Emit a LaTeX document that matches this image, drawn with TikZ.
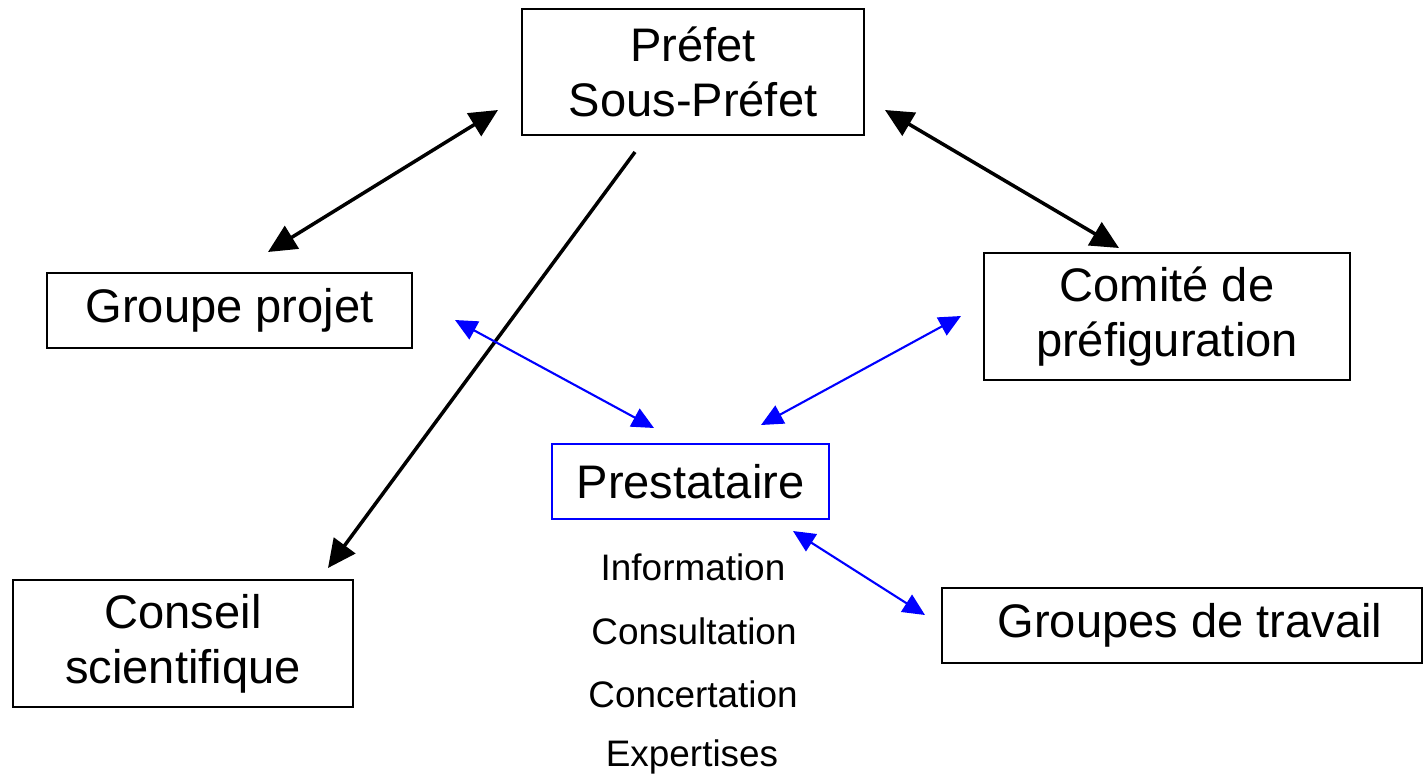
\documentclass[tikz,border=0pt]{standalone}
\usepackage{fontspec}
\setmainfont{Liberation Sans}
\usetikzlibrary{arrows.meta}
\begin{document}
\begin{tikzpicture}[x=0.02cm,y=-0.02cm,
  box/.style={draw=black,line width=1.1pt,align=center,inner sep=0pt,
    font=\fontsize{26.8}{31.5}\selectfont},
  bluebox/.style={box,draw=blue},
  small/.style={inner sep=0pt,font=\fontsize{21}{24}\selectfont},
  blk/.style={line width=2pt,{Triangle[length=16pt,width=15pt]}-{Triangle[length=16pt,width=15pt]}},
  blk1/.style={line width=2pt,-{Triangle[length=16pt,width=15pt]}},
  blu/.style={blue,line width=1.2pt,{Triangle[length=12.5pt,width=11.5pt]}-{Triangle[length=12.5pt,width=11.5pt]}}
]
\useasboundingbox (0,0) rectangle (1424,778);
\node[box,minimum width=342*0.02cm,minimum height=126*0.02cm] (prefet) at (693,72) {Préfet\\Sous-Préfet};
\node[box,minimum width=365*0.02cm,minimum height=75*0.02cm] (gp) at (229.5,310.5) {Groupe projet};
\node[box,minimum width=366*0.02cm,minimum height=127*0.02cm] (comite) at (1167,316.5) {Comité de\\préfiguration};
\node[bluebox,minimum width=277*0.02cm,minimum height=75*0.02cm] (prest) at (690.5,481.5) {Prestataire};
\node[box,minimum width=340*0.02cm,minimum height=127*0.02cm] (conseil) at (183,643.5) {Conseil\\scientifique};
\node[box,minimum width=480*0.02cm,minimum height=75*0.02cm] (gt) at (1182,625.5) {\hspace{9pt}Groupes de travail};
\node[small] (info) at (693,567) {Information};
\node[small] (consu) at (694,631) {Consultation};
\node[small] (conce) at (693,694) {Concertation};
\node[small] (exp) at (692,757) {Expertises};
\coordinate (a1) at (498,110); \coordinate (a2) at (268,252);
\coordinate (b1) at (885,110); \coordinate (b2) at (1119,248);
\coordinate (c1) at (635,152); \coordinate (c2) at (328,568);
\coordinate (d1) at (455,320); \coordinate (d2) at (654,428);
\coordinate (e1) at (961,316); \coordinate (e2) at (761,425);
\coordinate (f1) at (793,531); \coordinate (f2) at (925,615);
\draw[blk] (a1) -- (a2);
\draw[blk] (b1) -- (b2);
\draw[blk1] (c1) -- (c2);
\draw[blu] (d1) -- (d2);
\draw[blu] (e1) -- (e2);
\draw[blu] (f1) -- (f2);
\end{tikzpicture}
\end{document}
